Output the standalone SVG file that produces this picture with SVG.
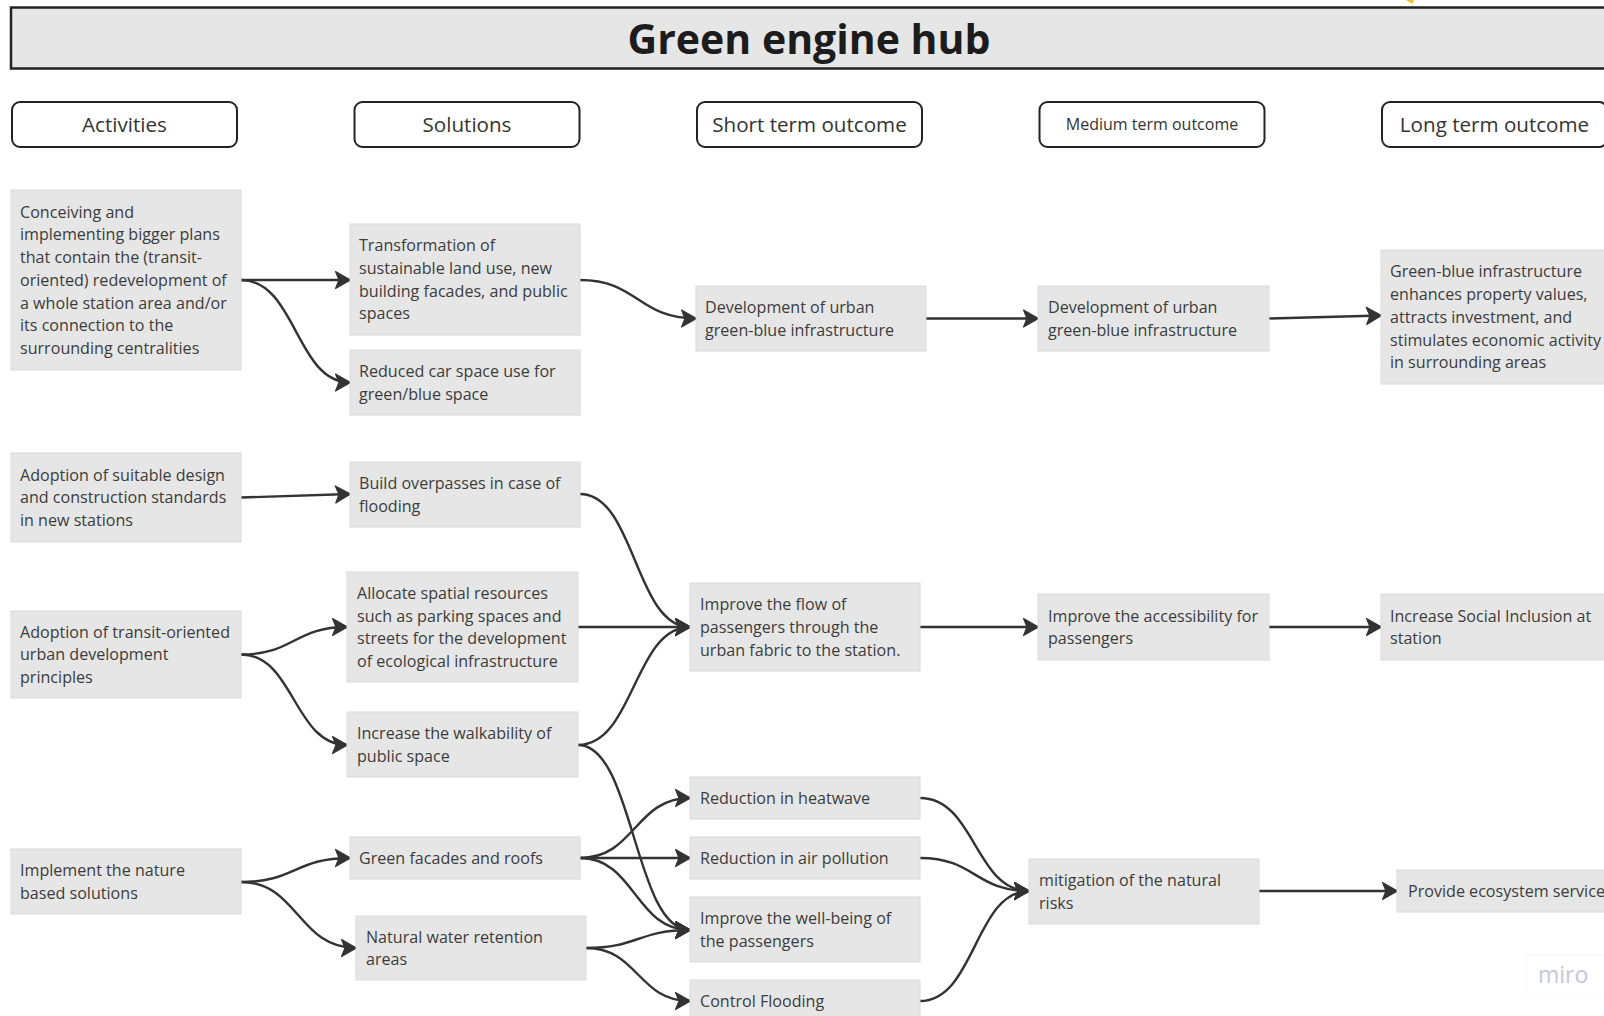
<svg xmlns="http://www.w3.org/2000/svg" width="1604" height="1016" viewBox="0 0 1604 1016">
  <style>
    .hdr { fill: #ffffff; stroke: #232323; stroke-width: 2; }
    .hdr-t { font-family: "Open Sans", "Noto Sans", sans-serif; font-size: 20.6px; fill: #333333; text-anchor: middle; }
    .box { fill: #e6e6e6; stroke: #dadada; stroke-width: 1; }
    .t { font-family: "Open Sans", "Noto Sans", sans-serif; font-size: 16.1px; fill: #3c3c3c; }
    .link { fill: none; stroke: #333333; stroke-width: 2.4; marker-end: url(#arrow); }
  </style>
  <defs>
    <marker id="arrow" markerUnits="userSpaceOnUse" viewBox="-1 -1 17 20" refX="14.5" refY="9" markerWidth="17" markerHeight="20" orient="auto">
      <path d="M0,0.5 L15,9 L0,17.5 L3.5,9 Z" fill="#333333" stroke="#333333" stroke-width="1.2" stroke-linejoin="round"/>
    </marker>
  </defs>

  <rect width="1604" height="1016" fill="#ffffff"/>

  <!-- title banner -->
  <g id="title">
    <rect x="11" y="7.5" width="1620" height="61" fill="#e6e6e6" stroke="#232323" stroke-width="2.5"/>
    <text x="809" y="54" font-family="'Open Sans', 'Noto Sans', sans-serif" font-size="41" font-weight="bold" fill="#1c1c1c" text-anchor="middle">Green engine hub</text>
  </g>
  <polygon points="1406,0 1414,0 1412.5,4" fill="#f2c230"/>

  <!-- column headers -->
  <g id="hdr-activities"><rect class="hdr" x="12" y="102" width="225" height="45" rx="8"/><text class="hdr-t" x="124.5" y="132">Activities</text></g>
  <g id="hdr-solutions"><rect class="hdr" x="354.5" y="102" width="225" height="45" rx="8"/><text class="hdr-t" x="467" y="132">Solutions</text></g>
  <g id="hdr-short"><rect class="hdr" x="697" y="102" width="225" height="45" rx="8"/><text class="hdr-t" x="809.5" y="132">Short term outcome</text></g>
  <g id="hdr-medium"><rect class="hdr" x="1039.5" y="102" width="225" height="45" rx="8"/><text class="hdr-t" x="1152" y="130" style="font-size:16px">Medium term outcome</text></g>
  <g id="hdr-long"><rect class="hdr" x="1382" y="102" width="225" height="45" rx="8"/><text class="hdr-t" x="1494.5" y="132">Long term outcome</text></g>

  <!-- connectors -->
  <g id="connectors">
    <path class="link" d="M241,280 L350,280"/>
    <path class="link" d="M241,280 C296,280 296,382.5 350,382.5"/>
    <path class="link" d="M580,280 C638,280 638,318.5 696,318.5"/>
    <path class="link" d="M926,318.5 L1038,318.5"/>
    <path class="link" d="M1269,318.5 L1381,315.5"/>
    <path class="link" d="M241,497.5 L350,494"/>
    <path class="link" d="M580,494 C635,494 635,627 690,627"/>
    <path class="link" d="M578,627 L690,627"/>
    <path class="link" d="M578,745 C634,745 634,627 690,627"/>
    <path class="link" d="M241,654.5 C294,654.5 294,627 347,627"/>
    <path class="link" d="M241,654.5 C294,654.5 294,745 347,745"/>
    <path class="link" d="M578,745 C634,745 634,930 690,930"/>
    <path class="link" d="M920,627 L1038,627"/>
    <path class="link" d="M1269,627 L1381,627"/>
    <path class="link" d="M241,882 C295,882 295,858 350,858"/>
    <path class="link" d="M241,882 C298,882 298,948 356,948"/>
    <path class="link" d="M580,858 C635,858 635,798 690,798"/>
    <path class="link" d="M580,858 L690,858"/>
    <path class="link" d="M580,858 C635,858 635,930 690,930"/>
    <path class="link" d="M586,948 C638,948 638,930 690,930"/>
    <path class="link" d="M586,948 C638,948 638,1001 690,1001"/>
    <path class="link" d="M920,798 C975,798 975,891 1029,891"/>
    <path class="link" d="M920,858 C975,858 975,891 1029,891"/>
    <path class="link" d="M920,1001 C975,1001 975,891 1029,891"/>
    <path class="link" d="M1259,891 L1397,891"/>
  </g>

  <!-- activities -->
  <g id="act-plans">
    <rect class="box" x="11" y="190" width="230" height="180"/>
    <text class="t" x="20" y="217.7"><tspan x="20">Conceiving and</tspan><tspan x="20" dy="22.7">implementing bigger plans</tspan><tspan x="20" dy="22.7">that contain the (transit-</tspan><tspan x="20" dy="22.7">oriented) redevelopment of</tspan><tspan x="20" dy="22.7">a whole station area and/or</tspan><tspan x="20" dy="22.7">its connection to the</tspan><tspan x="20" dy="22.7">surrounding centralities</tspan></text>
  </g>
  <g id="act-standards">
    <rect class="box" x="11" y="453" width="230" height="89"/>
    <text class="t" x="20" y="480.6"><tspan x="20">Adoption of suitable design</tspan><tspan x="20" dy="22.7">and construction standards</tspan><tspan x="20" dy="22.7">in new stations</tspan></text>
  </g>
  <g id="act-tod">
    <rect class="box" x="11" y="611" width="230" height="87"/>
    <text class="t" x="20" y="637.6"><tspan x="20">Adoption of transit-oriented</tspan><tspan x="20" dy="22.7">urban development</tspan><tspan x="20" dy="22.7">principles</tspan></text>
  </g>
  <g id="act-nature">
    <rect class="box" x="11" y="849" width="230" height="65"/>
    <text class="t" x="20" y="876"><tspan x="20">Implement the nature</tspan><tspan x="20" dy="22.7">based solutions</tspan></text>
  </g>

  <!-- solutions -->
  <g id="sol-landuse">
    <rect class="box" x="350" y="224" width="230" height="111"/>
    <text class="t" x="359" y="251.3"><tspan x="359">Transformation of</tspan><tspan x="359" dy="22.7">sustainable land use, new</tspan><tspan x="359" dy="22.7">building facades, and public</tspan><tspan x="359" dy="22.7">spaces</tspan></text>
  </g>
  <g id="sol-carspace">
    <rect class="box" x="350" y="350" width="230" height="65"/>
    <text class="t" x="359" y="377"><tspan x="359">Reduced car space use for</tspan><tspan x="359" dy="22.7">green/blue space</tspan></text>
  </g>
  <g id="sol-overpass">
    <rect class="box" x="350" y="462" width="230" height="65"/>
    <text class="t" x="359" y="489"><tspan x="359">Build overpasses in case of</tspan><tspan x="359" dy="22.7">flooding</tspan></text>
  </g>
  <g id="sol-allocate">
    <rect class="box" x="347" y="572" width="231" height="110"/>
    <text class="t" x="357" y="598.8"><tspan x="357">Allocate spatial resources</tspan><tspan x="357" dy="22.7">such as parking spaces and</tspan><tspan x="357" dy="22.7">streets for the development</tspan><tspan x="357" dy="22.7">of ecological infrastructure</tspan></text>
  </g>
  <g id="sol-walk">
    <rect class="box" x="347" y="712" width="231" height="65"/>
    <text class="t" x="357" y="739"><tspan x="357">Increase the walkability of</tspan><tspan x="357" dy="22.7">public space</tspan></text>
  </g>
  <g id="sol-facades">
    <rect class="box" x="350" y="837" width="230" height="42"/>
    <text class="t" x="359" y="863.8">Green facades and roofs</text>
  </g>
  <g id="sol-water">
    <rect class="box" x="356" y="916" width="230" height="64"/>
    <text class="t" x="366" y="942.5"><tspan x="366">Natural water retention</tspan><tspan x="366" dy="22.7">areas</tspan></text>
  </g>

  <!-- short term outcomes -->
  <g id="st-greenblue">
    <rect class="box" x="696" y="286" width="230" height="65"/>
    <text class="t" x="705" y="313"><tspan x="705">Development of urban</tspan><tspan x="705" dy="22.7">green-blue infrastructure</tspan></text>
  </g>
  <g id="st-flow">
    <rect class="box" x="690" y="583" width="230" height="88"/>
    <text class="t" x="700" y="610.1"><tspan x="700">Improve the flow of</tspan><tspan x="700" dy="22.7">passengers through the</tspan><tspan x="700" dy="22.7">urban fabric to the station.</tspan></text>
  </g>
  <g id="st-heat">
    <rect class="box" x="690" y="777" width="230" height="42"/>
    <text class="t" x="700" y="803.8">Reduction in heatwave</text>
  </g>
  <g id="st-air">
    <rect class="box" x="690" y="837" width="230" height="42"/>
    <text class="t" x="700" y="863.8">Reduction in air pollution</text>
  </g>
  <g id="st-wellbeing">
    <rect class="box" x="690" y="897" width="230" height="65"/>
    <text class="t" x="700" y="924"><tspan x="700">Improve the well-being of</tspan><tspan x="700" dy="22.7">the passengers</tspan></text>
  </g>
  <g id="st-flooding">
    <rect class="box" x="690" y="980" width="230" height="44"/>
    <text class="t" x="700" y="1006.8">Control Flooding</text>
  </g>

  <!-- medium term outcomes -->
  <g id="mt-greenblue">
    <rect class="box" x="1038" y="286" width="231" height="65"/>
    <text class="t" x="1048" y="313"><tspan x="1048">Development of urban</tspan><tspan x="1048" dy="22.7">green-blue infrastructure</tspan></text>
  </g>
  <g id="mt-access">
    <rect class="box" x="1038" y="594" width="231" height="66"/>
    <text class="t" x="1048" y="621.5"><tspan x="1048">Improve the accessibility for</tspan><tspan x="1048" dy="22.7">passengers</tspan></text>
  </g>
  <g id="mt-risks">
    <rect class="box" x="1029" y="859" width="230" height="65"/>
    <text class="t" x="1039" y="886"><tspan x="1039">mitigation of the natural</tspan><tspan x="1039" dy="22.7">risks</tspan></text>
  </g>

  <!-- long term outcomes -->
  <g id="lt-economy">
    <rect class="box" x="1381" y="250" width="240" height="134"/>
    <text class="t" x="1390" y="277.4"><tspan x="1390">Green-blue infrastructure</tspan><tspan x="1390" dy="22.7">enhances property values,</tspan><tspan x="1390" dy="22.7">attracts investment, and</tspan><tspan x="1390" dy="22.7">stimulates economic activity</tspan><tspan x="1390" dy="22.7">in surrounding areas</tspan></text>
  </g>
  <g id="lt-inclusion">
    <rect class="box" x="1381" y="594" width="240" height="66"/>
    <text class="t" x="1390" y="621.5"><tspan x="1390">Increase Social Inclusion at</tspan><tspan x="1390" dy="22.7">station</tspan></text>
  </g>
  <g id="lt-ecosystem">
    <rect class="box" x="1397" y="870" width="230" height="42"/>
    <text class="t" x="1408" y="896.8">Provide ecosystem service</text>
  </g>

  <!-- board watermark -->
  <rect x="1526" y="955" width="80" height="40" fill="#ffffff" stroke="#f8f8f8" stroke-width="1"/>
  <text x="1538" y="983" font-family="'Open Sans', 'Noto Sans', sans-serif" font-size="23" fill="#c6c6d8">miro</text>
</svg>
